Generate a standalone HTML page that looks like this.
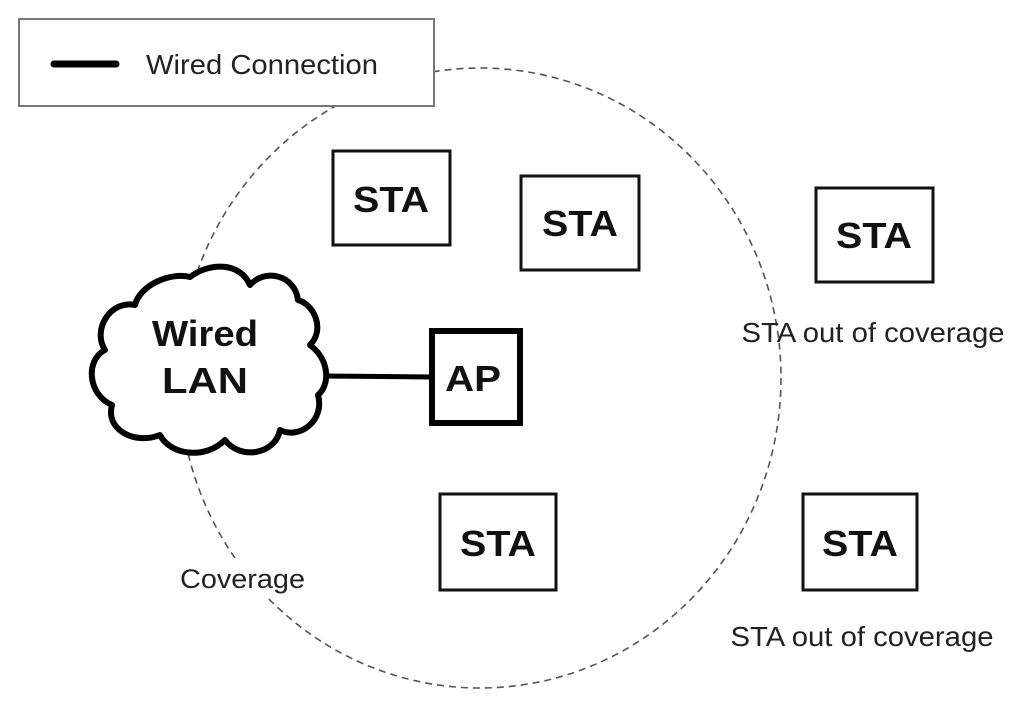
<!DOCTYPE html>
<html><head><style>
body{margin:0;background:#fff;}
svg text{font-family:"Liberation Sans",Arial,sans-serif;}
</style></head><body>
<svg width="1024" height="697" viewBox="0 0 1024 697" xmlns="http://www.w3.org/2000/svg">
<rect width="1024" height="697" fill="#fff"/>
<ellipse cx="480" cy="378" rx="301" ry="310" fill="none" stroke="#555" stroke-width="1.6" stroke-dasharray="7,5"/>
<rect x="19" y="19" width="415" height="87" fill="#fff" stroke="#777" stroke-width="2"/>
<line x1="54" y1="64" x2="116" y2="64" stroke="#000" stroke-width="7" stroke-linecap="round"/>
<text x="146" y="74" font-size="28" fill="#222" textLength="232" lengthAdjust="spacingAndGlyphs">Wired Connection</text>
<rect x="170" y="558" width="145" height="38" fill="#fff"/>
<text x="180" y="588" font-size="27" fill="#222" textLength="125" lengthAdjust="spacingAndGlyphs">Coverage</text>
<g fill="#fff" stroke="#111" stroke-width="3">
<rect x="333" y="151" width="117" height="94"/>
<rect x="521" y="176" width="118" height="94"/>
<rect x="816" y="188" width="117" height="94"/>
<rect x="440" y="494" width="116" height="96"/>
<rect x="803" y="494" width="114" height="96"/>
</g>
<rect x="432" y="331" width="88" height="92" fill="#fff" stroke="#000" stroke-width="6"/>
<line x1="322" y1="376" x2="432" y2="377" stroke="#000" stroke-width="5"/>
<path d="M190,277 C210,262 240,262 250,285 C265,268 295,275 298,300 C315,305 325,330 310,345 C330,360 330,385 318,395 C325,420 300,440 280,430 C275,455 240,460 225,440 C205,460 170,455 160,435 C135,445 105,430 112,405 C88,395 85,360 105,350 C92,330 110,300 135,305 C140,285 170,272 190,277 Z" fill="#fff" stroke="#000" stroke-width="6" stroke-linejoin="round"/>
<g font-weight="bold" fill="#111" text-anchor="middle" font-size="36">
<text x="391" y="212" textLength="76" lengthAdjust="spacingAndGlyphs">STA</text>
<text x="580" y="236" textLength="76" lengthAdjust="spacingAndGlyphs">STA</text>
<text x="874" y="248" textLength="76" lengthAdjust="spacingAndGlyphs">STA</text>
<text x="498" y="556" textLength="76" lengthAdjust="spacingAndGlyphs">STA</text>
<text x="860" y="556" textLength="76" lengthAdjust="spacingAndGlyphs">STA</text>
<text x="473" y="391" textLength="56" lengthAdjust="spacingAndGlyphs">AP</text>
<text x="205" y="346" textLength="106" lengthAdjust="spacingAndGlyphs">Wired</text>
<text x="205" y="393" textLength="86" lengthAdjust="spacingAndGlyphs">LAN</text>
</g>
<g fill="#222" text-anchor="middle" font-size="28">
<text x="873" y="342" textLength="263" lengthAdjust="spacingAndGlyphs">STA out of coverage</text>
<text x="862" y="646" textLength="263" lengthAdjust="spacingAndGlyphs">STA out of coverage</text>
</g>
</svg>
</body></html>
